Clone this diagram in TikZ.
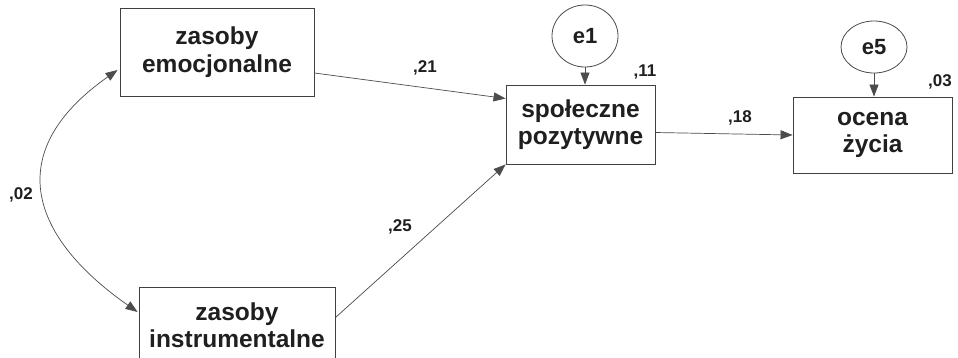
\documentclass[tikz,border=0pt]{standalone}
\usepackage{fontspec}
\setmainfont{Liberation Sans}
\usetikzlibrary{arrows.meta,shapes.geometric,calc}
\begin{document}
\begin{tikzpicture}[x=1pt,y=-1pt,
  box/.style={draw=black!75,line width=0.9pt,rectangle,inner sep=0pt,align=center,
    font=\fontsize{24.5}{27.5}\selectfont\bfseries,text=black!88},
  err/.style={draw=black!70,line width=0.8pt,ellipse,inner sep=0pt,
    font=\fontsize{22}{24}\selectfont\bfseries,text=black!88},
  coef/.style={inner sep=0pt,font=\fontsize{17}{19}\selectfont\bfseries,text=black!88},
  path/.style={draw=black!70,line width=0.7pt,-{Triangle[length=12pt,width=9pt]}},
  cov/.style={draw=black!70,line width=0.7pt,{Triangle[length=12pt,width=9pt]}-{Triangle[length=12pt,width=9pt]}}]
\useasboundingbox (0,0) rectangle (958,357);
\fill[white] (0,0) rectangle (958,357);
\clip (0,0) rectangle (958,357);
\node[box,minimum width=194pt,minimum height=88pt] (emo) at (217,52) {zasoby\\emocjonalne};
\node[box,minimum width=196pt,minimum height=76pt] (instr) at (237,325) {zasoby\\instrumentalne};
\node[box,minimum width=149pt,minimum height=79pt] (spol) at (580.5,124.5) {społeczne\\pozytywne};
\node[box,minimum width=159pt,minimum height=76pt] (ocena) at (872.5,135) {ocena\\życia};
\node[err,minimum width=66pt,minimum height=62pt] (e1) at (585,36) {e1};
\node[err,minimum width=66pt,minimum height=52pt] (e5) at (874,47) {e5};
\coordinate (emoout) at ($(emo.east)+(0,21)$);
\coordinate (spolin1) at ($(spol.west)+(0,-26)$);
\coordinate (instrout) at ($(instr.north east)+(0,31)$);
\coordinate (spolout) at ($(spol.east)+(0,8)$);
\coordinate (emocov) at ($(emo.west)+(-2,18)$);
\coordinate (instrcov) at ($(instr.west)+(-1,-13)$);
\draw[path] (e1.south) -- (e1.south |- spol.north);
\draw[path] (e5.south) -- (e5.south |- ocena.north);
\draw[path] (emoout) -- (spolin1);
\draw[path] (instrout) -- (spol.south west);
\draw[path] (spolout) -- (ocena.west);
\draw[cov] (emocov) .. controls (5,149) and (25,233) .. (instrcov);
\node[coef] (c21) at (425,68) {,21};
\node[coef] (c25) at (400,227) {,25};
\node[coef] (c18) at (740,118) {,18};
\node[coef] (c11) at (645,72) {,11};
\node[coef] (c03) at (940,82) {,03};
\node[coef] (c02) at (21,195) {,02};
\end{tikzpicture}
\end{document}
